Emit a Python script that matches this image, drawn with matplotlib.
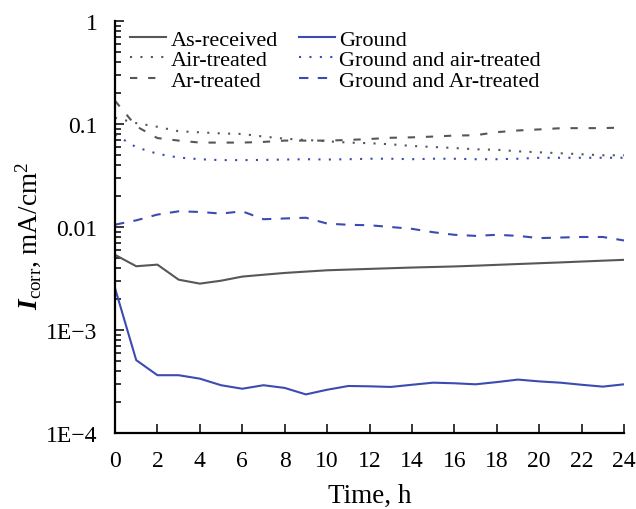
import numpy as np
import matplotlib
matplotlib.use('Agg')
import matplotlib.pyplot as plt
from matplotlib.ticker import FixedLocator, FixedFormatter, LogLocator, NullFormatter

plt.rcParams['font.family'] = ['Liberation Serif', 'DejaVu Serif']
plt.rcParams['mathtext.fontset'] = 'custom'
plt.rcParams['mathtext.rm'] = 'Liberation Serif'
plt.rcParams['mathtext.it'] = 'Liberation Serif:italic'
plt.rcParams['mathtext.bf'] = 'Liberation Serif:italic:bold'

#Data (time in hours, current in mA/cm2)
hours = list(range(0, 25))

as_received = [5.37e-3, 4.16e-3, 4.31e-3, 3.08e-3, 2.82e-3, 3.01e-3, 3.30e-3, 3.44e-3,
               3.58e-3, 3.69e-3, 3.80e-3, 3.86e-3, 3.92e-3, 3.98e-3, 4.04e-3, 4.09e-3,
               4.14e-3, 4.21e-3, 4.29e-3, 4.37e-3, 4.45e-3, 4.53e-3, 4.62e-3, 4.71e-3, 4.80e-3]
air_treated = [0.115, 0.102, 0.094, 0.085, 0.083, 0.081, 0.080, 0.0755, 0.072, 0.070,
               0.068, 0.066, 0.0651, 0.0635, 0.0612, 0.0598, 0.0585, 0.0568, 0.0562,
               0.0543, 0.0531, 0.052, 0.0508, 0.0497, 0.0497]
ar_treated = [0.168, 0.095, 0.073, 0.069, 0.066, 0.066, 0.066, 0.067, 0.069, 0.069,
              0.069, 0.070, 0.0715, 0.0735, 0.0742, 0.0755, 0.0772, 0.0778, 0.0833,
              0.0865, 0.0886, 0.091, 0.0912, 0.0912, 0.0925]
ground = [2.55e-3, 5.1e-4, 3.64e-4, 3.64e-4, 3.37e-4, 2.91e-4, 2.69e-4, 2.91e-4,
          2.74e-4, 2.37e-4, 2.63e-4, 2.86e-4, 2.84e-4, 2.80e-4, 2.94e-4, 3.08e-4,
          3.04e-4, 2.97e-4, 3.12e-4, 3.30e-4, 3.17e-4, 3.08e-4, 2.94e-4, 2.82e-4, 2.97e-4]
ground_air = [0.079, 0.0595, 0.0514, 0.0472, 0.0455, 0.0446, 0.0446, 0.0448, 0.0452,
              0.0455, 0.0452, 0.0455, 0.046, 0.046, 0.0455, 0.046, 0.046, 0.0455,
              0.0455, 0.046, 0.047, 0.047, 0.047, 0.047, 0.047]
ground_ar = [0.01054, 0.0116, 0.0132, 0.0142, 0.0140, 0.0135, 0.0142, 0.0119, 0.0121,
             0.0123, 0.0108, 0.0105, 0.0104, 0.0100, 0.0096, 0.0089, 0.0084, 0.0082,
             0.0084, 0.0082, 0.0078, 0.0079, 0.0080, 0.0080, 0.0074]

x_ticks = list(range(0, 25, 2))
y_ticks = [1e-4, 1e-3, 1e-2, 1e-1, 1]
y_tick_labels = ['1E\u22124', '1E\u22123', '0.01', '0.1', '1']

gray = '#575757'
blue = '#3c4bb2'
lw = 1.5
dotted = (0, (1, 4))

fig = plt.figure(figsize=(6.36, 5.10), dpi=100)
ax = fig.add_axes([115/636, 1 - 434/510, 509/636, 412/510])

#Column-wise order so the legend reads like the reference
ax.plot(hours, as_received, color=gray, lw=lw, label='As-received')
ax.plot(hours, air_treated, color=gray, lw=lw, linestyle=dotted, label='Air-treated')
ax.plot(hours, ar_treated, color=gray, lw=lw, linestyle=(0, (3.5, 5.2)), label='Ar-treated')
ax.plot(hours, ground, color=blue, lw=lw, label='Ground')
ax.plot(hours, ground_air, color=blue, lw=lw, linestyle=dotted, label='Ground and air-treated')
ax.plot(hours, ground_ar, color=blue, lw=lw, linestyle=(0, (4.5, 4.5)), label='Ground and Ar-treated')

ax.set_yscale('log')
ax.set_ylim(1e-4, 1)
ax.set_xlim(0, 24)

ax.xaxis.set_major_locator(FixedLocator(x_ticks))
ax.yaxis.set_major_locator(FixedLocator(y_ticks))
ax.yaxis.set_major_formatter(FixedFormatter(y_tick_labels))
ax.yaxis.set_minor_locator(LogLocator(base=10, subs=np.arange(2, 10)))
ax.yaxis.set_minor_formatter(NullFormatter())

ax.spines['top'].set_visible(False)
ax.spines['right'].set_visible(False)
ax.spines['left'].set_linewidth(1.6)
ax.spines['bottom'].set_linewidth(1.6)
ax.tick_params(axis='both', which='major', direction='in', length=6.5, width=1.1,
               labelsize=17, pad=12.5)
ax.tick_params(axis='y', which='minor', direction='in', length=4.3, width=1.1)

ax.set_xlabel('Time, h', fontsize=19.5, labelpad=8)
ax.set_ylabel(r'$\mathbf{I}_{\rm corr}$, mA/cm$^2$', fontsize=19.5)
ax.yaxis.set_label_coords(-0.141, 0.48)

ax.legend(ncol=2, frameon=False, loc='upper left', bbox_to_anchor=(0.012, 1.002),
          fontsize=16, handlelength=1.62, handletextpad=0.2, columnspacing=0.95,
          labelspacing=0.0, borderaxespad=0.0)

fig.savefig('out.png', dpi=100)
